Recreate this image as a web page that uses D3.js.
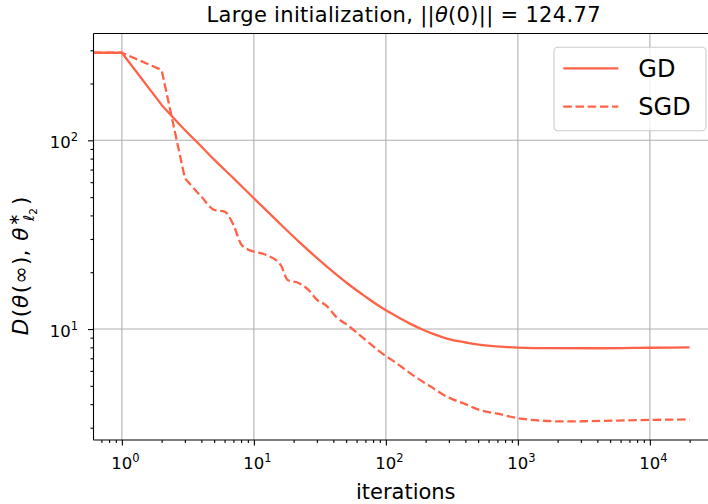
<!DOCTYPE html>
<html>
<head>
<meta charset="utf-8">
<script src="https://cdn.jsdelivr.net/npm/d3@7"></script>
<style>
  html, body { margin: 0; padding: 0; background: #fff; }
  svg { display: block; font-family: "DejaVu Sans", sans-serif; }
</style>
</head>
<body>
<svg id="chart" width="708" height="504"></svg>
<script>
// Distance to the l2 solution over training, gradient descent vs. SGD
const gdIterations = [0, 1, 2, 3, 4, 5, 7, 10, 15, 22, 35, 53, 70, 90, 107, 128, 155, 191, 228, 271, 311, 364, 419, 490, 615, 785, 1000, 1750, 4190, 10000, 20000];
const gdDistance   = [291, 291, 154, 113.5, 92.7, 79, 63, 49.3, 37.4, 28.95, 21.68, 17.11, 14.85, 13.15, 12.22, 11.40, 10.62, 9.91, 9.42, 9.04, 8.80, 8.59, 8.44, 8.29, 8.14, 8.04, 7.98, 7.92, 7.91, 7.96, 8.0];

const sgdIterations = [0, 1, 2, 3, 4, 5, 6, 7, 8, 9, 10, 12, 16, 18, 22, 26, 30, 35, 42, 53, 71, 92, 120, 160, 220, 290, 400, 510, 700, 1000, 1500, 2200, 3500, 5200, 10000, 20000];
const sgdDistance   = [291, 291, 236, 63, 50.3, 42.8, 41.9, 35.6, 28.2, 26.4, 25.7, 24.9, 21.8, 18.2, 17.5, 16.1, 14.3, 13.4, 11.6, 10.3, 8.7, 7.5, 6.6, 5.7, 4.94, 4.38, 4.0, 3.73, 3.56, 3.37, 3.27, 3.24, 3.25, 3.27, 3.3, 3.32];

const xTickExponents = [0, 1, 2, 3, 4];
const yTickExponents = [1, 2];
const seriesNames = ["GD", "SGD"];

const lineColor = "#ff6347";
const plot = { left: 93.5, top: 33.5, right: 718, bottom: 440 };

const svg = d3.select("#chart");

const x = d3.scaleLog()
  .domain([Math.pow(10, -0.215), Math.pow(10, 4.516)])
  .range([plot.left, plot.right])
  .clamp(true);
const y = d3.scaleLog()
  .domain([Math.pow(10, 0.412), Math.pow(10, 2.566)])
  .range([plot.bottom, plot.top]);

// minor tick positions inside each axis domain
function minorTicks(scale) {
  const [a, b] = scale.domain();
  const out = [];
  for (let e = Math.floor(Math.log10(a)); e <= Math.ceil(Math.log10(b)); e++) {
    for (let m = 2; m <= 9; m++) {
      const v = m * Math.pow(10, e);
      if (v >= a && v <= b) out.push(v);
    }
  }
  return out;
}

const xMajor = xTickExponents.map(e => Math.pow(10, e));
const yMajor = yTickExponents.map(e => Math.pow(10, e));

svg.append("defs").append("clipPath").attr("id", "plotClip")
  .append("rect")
  .attr("x", plot.left).attr("y", plot.top)
  .attr("width", plot.right - plot.left).attr("height", plot.bottom - plot.top);

// grid
const grid = svg.append("g").attr("stroke", "#b0b0b0").attr("stroke-width", 1.1);
grid.selectAll("line.gx").data(xMajor).join("line")
  .attr("x1", d => x(d)).attr("x2", d => x(d))
  .attr("y1", plot.top).attr("y2", plot.bottom);
grid.selectAll("line.gy").data(yMajor).join("line")
  .attr("x1", plot.left).attr("x2", plot.right)
  .attr("y1", d => y(d)).attr("y2", d => y(d));

// lines: straight first steps, smooth afterwards
const straight = d3.line().x(d => x(d[0])).y(d => y(d[1]));
const smooth = d3.line().x(d => x(d[0])).y(d => y(d[1])).curve(d3.curveMonotoneX);
const gdPoints = gdIterations.map((t, i) => [t, gdDistance[i]]);
const sgdPoints = sgdIterations.map((t, i) => [t, sgdDistance[i]]);

function pieceD(points, split) {
  const a = straight(points.slice(0, split + 1));
  const b = smooth(points.slice(split));
  return a + "L" + b.slice(1);
}

const lines = svg.append("g").attr("clip-path", "url(#plotClip)")
  .attr("fill", "none").attr("stroke", lineColor).attr("stroke-width", 2.3)
  .attr("stroke-linejoin", "round");
lines.append("path").attr("d", pieceD(gdPoints, 2));
lines.append("path").attr("d", pieceD(sgdPoints, 3))
  .attr("stroke-dasharray", "8.5,3.7");

// axes
function styleAxis(g) {
  g.select(".domain").remove();
  g.selectAll(".tick line").attr("stroke", "#000").attr("stroke-width", 1.1);
}
function superscriptLabels(g) {
  g.selectAll(".tick text").each(function(d) {
    const t = d3.select(this);
    t.text(null).attr("fill", "#000").attr("font-size", 16.5)
      .attr("font-family", "DejaVu Sans");
    t.append("tspan").text("10");
    t.append("tspan").attr("font-size", 11.5).attr("dy", -7)
      .text(String(Math.round(Math.log10(d))));
  });
}

const xAxisG = svg.append("g").attr("transform", `translate(0,${plot.bottom})`);
xAxisG.call(d3.axisBottom(x).tickValues(minorTicks(x)).tickSize(3).tickFormat(""))
  .call(styleAxis);
const xMajorG = svg.append("g").attr("transform", `translate(0,${plot.bottom})`);
xMajorG.call(d3.axisBottom(x).tickValues(xMajor).tickSize(5.5).tickPadding(10))
  .call(styleAxis)
  .call(superscriptLabels);
xMajorG.selectAll(".tick text").attr("dy", null).attr("y", 29).attr("dx", 3);

const yAxisG = svg.append("g").attr("transform", `translate(${plot.left},0)`);
yAxisG.call(d3.axisLeft(y).tickValues(minorTicks(y)).tickSize(3).tickFormat(""))
  .call(styleAxis);
const yMajorG = svg.append("g").attr("transform", `translate(${plot.left},0)`);
yMajorG.call(d3.axisLeft(y).tickValues(yMajor).tickSize(5.5).tickPadding(10))
  .call(styleAxis)
  .call(superscriptLabels);
yMajorG.selectAll(".tick text").attr("dy", null).attr("y", 7).attr("x", -15.5);

// frame
const frame = svg.append("g").attr("stroke", "#000").attr("stroke-width", 1.1);
frame.append("line").attr("x1", plot.left).attr("x2", plot.left).attr("y1", plot.top).attr("y2", plot.bottom);
frame.append("line").attr("x1", plot.left).attr("x2", plot.right).attr("y1", plot.bottom).attr("y2", plot.bottom);
frame.append("line").attr("x1", plot.left).attr("x2", plot.right).attr("y1", plot.top).attr("y2", plot.top);
frame.append("line").attr("x1", plot.right).attr("x2", plot.right).attr("y1", plot.top).attr("y2", plot.bottom);

// title
const cx = (plot.left + plot.right) / 2;
const title = svg.append("text").attr("x", 403.5).attr("y", 21.5)
  .attr("text-anchor", "middle").attr("font-size", 21).attr("fill", "#000")
  .attr("textLength", 394).attr("lengthAdjust", "spacing");
title.append("tspan").text("Large initialization, ||");
title.append("tspan").attr("font-style", "italic").text("θ");
title.append("tspan").text("(0)|| = 124.77");

// x label
svg.append("text").attr("x", cx).attr("y", 498.5)
  .attr("text-anchor", "middle").attr("font-size", 21).attr("fill", "#000")
  .text("iterations");

// y label
const yl = svg.append("text")
  .attr("transform", `translate(28,266) rotate(-90)`)
  .attr("text-anchor", "middle").attr("font-size", 21.5).attr("fill", "#000");
yl.append("tspan").attr("font-style", "italic").text("D");
yl.append("tspan").attr("dx", 1.5).text("(");
yl.append("tspan").attr("dx", 1).attr("font-style", "italic").text("θ");
yl.append("tspan").attr("dx", 1.5).text("(");
yl.append("tspan").attr("dx", 1).text("∞");
yl.append("tspan").attr("dx", 1).text("),");
yl.append("tspan").attr("dx", 9).attr("font-style", "italic").text("θ");
yl.append("tspan").attr("font-size", 15).attr("dx", 1.5).attr("dy", -9).text("∗");
yl.append("tspan").attr("font-size", 15).attr("font-style", "italic").attr("dx", -7.5).attr("dy", 15).text("ℓ");
yl.append("tspan").attr("font-size", 10.5).attr("dy", 3).text("2");
yl.append("tspan").attr("dy", -9).attr("dx", 3).text(")");

// legend
const legend = svg.append("g");
legend.append("rect")
  .attr("x", 554).attr("y", 47.3).attr("width", 152).attr("height", 83.4)
  .attr("rx", 4).attr("fill", "#fff").attr("fill-opacity", 0.8)
  .attr("stroke", "#cccccc").attr("stroke-width", 1.1);
const legendRows = legend.selectAll("g.row").data(seriesNames).join("g")
  .attr("transform", (d, i) => `translate(0,${68.3 + i * 38.4})`);
legendRows.append("line")
  .attr("x1", 563.3).attr("x2", 618.3).attr("y1", 0).attr("y2", 0)
  .attr("stroke", lineColor).attr("stroke-width", 2.3)
  .attr("stroke-dasharray", (d, i) => i === 1 ? "8.5,3.7" : null);
legendRows.append("text")
  .attr("x", 638.3).attr("y", 8.7).attr("font-size", 24).attr("fill", "#000")
  .text(d => d);
</script>
</body>
</html>
